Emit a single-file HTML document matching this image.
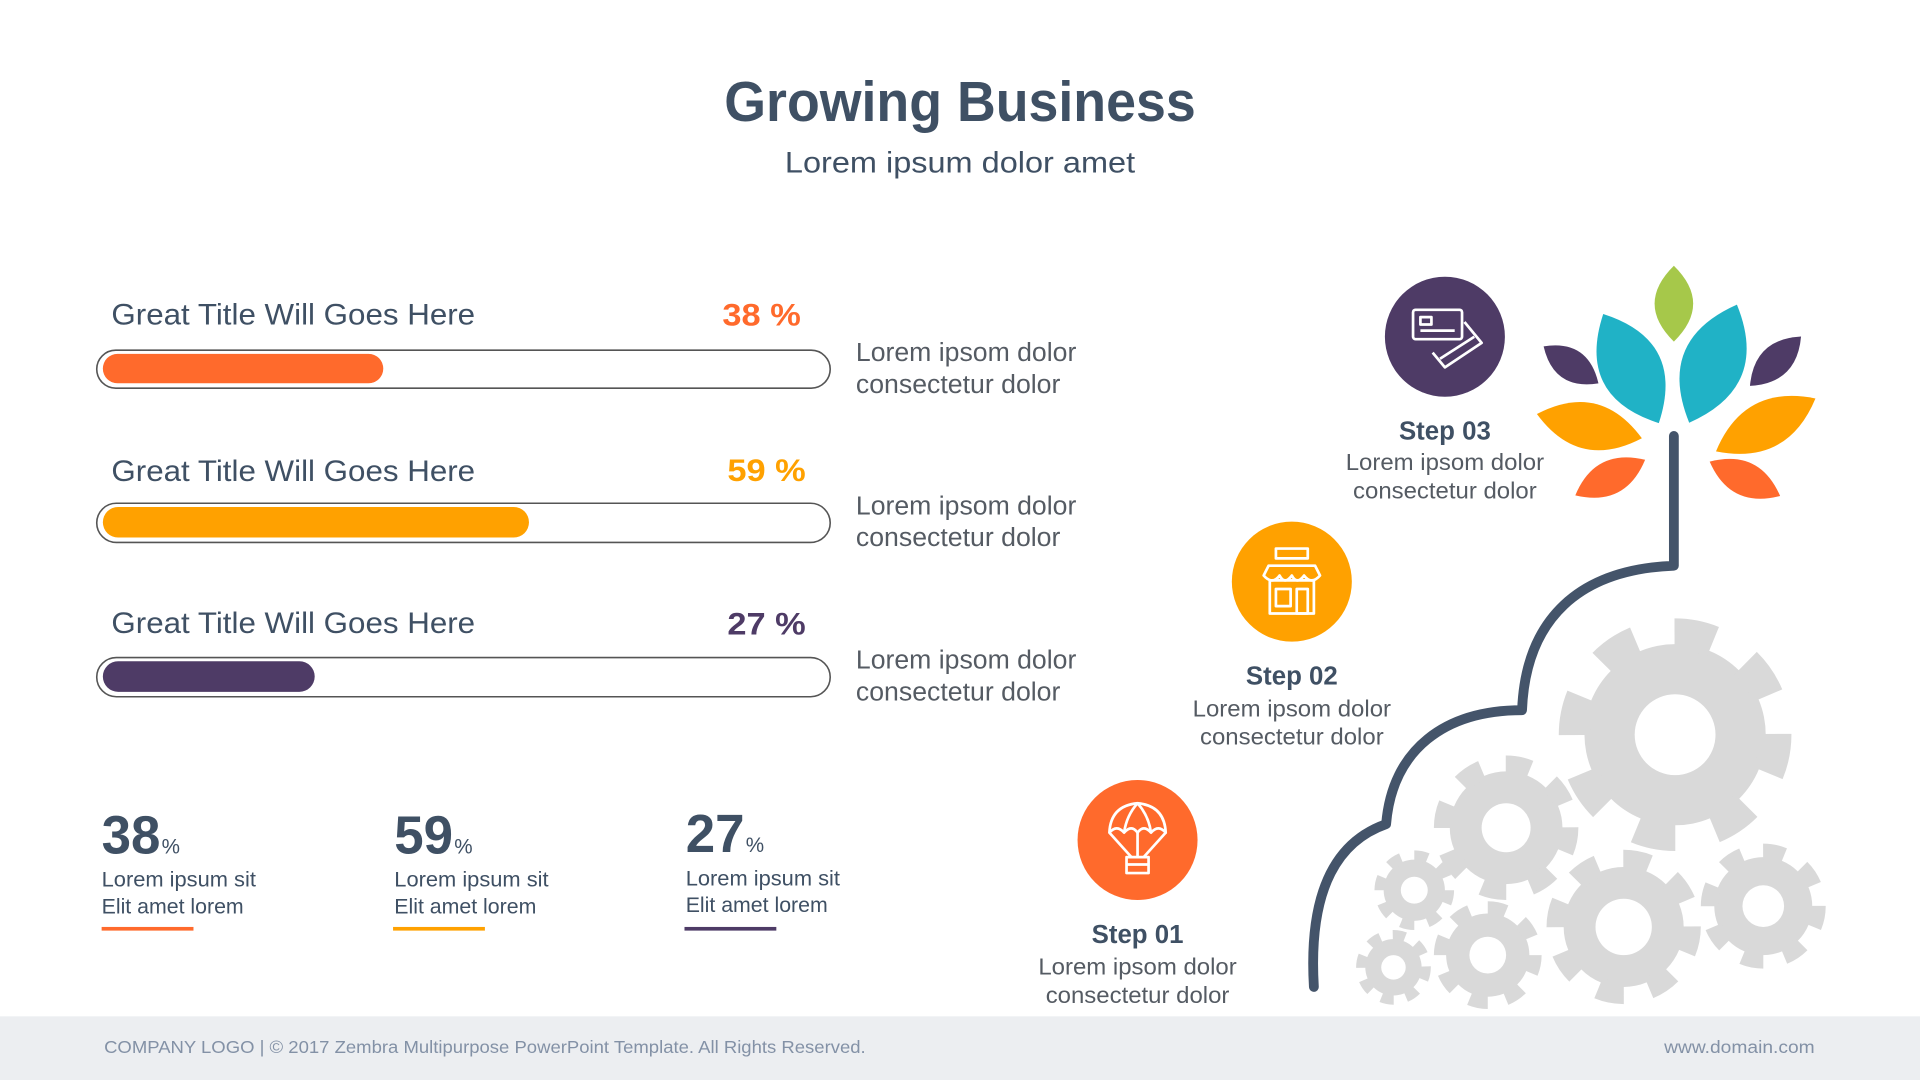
<!DOCTYPE html>
<html><head><meta charset="utf-8"><style>html,body{margin:0;padding:0;background:#fff;}svg{display:block;}text{font-family:"Liberation Sans",sans-serif;}</style></head>
<body>
<svg width="1920" height="1080" viewBox="0 0 1568 882" xmlns="http://www.w3.org/2000/svg">
<defs><path id="leaf" d="M-1,0 Q0,-2.1 1,0 Q0,2.1 -1,0 Z"/></defs>
<rect width="1568" height="882" fill="#fff"/>
<text x="784" y="99" text-anchor="middle" font-size="46" font-weight="bold" fill="#3f5064" textLength="385" lengthAdjust="spacingAndGlyphs">Growing Business</text>
<text x="784" y="141" text-anchor="middle" font-size="24" fill="#3f5064" textLength="286" lengthAdjust="spacingAndGlyphs">Lorem ipsum dolor amet</text>

<g font-size="24" fill="#3f5064">
<text x="91" y="265" textLength="297" lengthAdjust="spacingAndGlyphs">Great Title Will Goes Here</text>
<text x="91" y="393" textLength="297" lengthAdjust="spacingAndGlyphs">Great Title Will Goes Here</text>
<text x="91" y="517" textLength="297" lengthAdjust="spacingAndGlyphs">Great Title Will Goes Here</text>
</g>
<text x="654" y="266" text-anchor="end" font-size="26" font-weight="bold" fill="#ff6a2c" textLength="64" lengthAdjust="spacingAndGlyphs">38 %</text>
<text x="658" y="393" text-anchor="end" font-size="26" font-weight="bold" fill="#ffa100" textLength="64" lengthAdjust="spacingAndGlyphs">59 %</text>
<text x="658" y="518" text-anchor="end" font-size="26" font-weight="bold" fill="#4e3b66" textLength="64" lengthAdjust="spacingAndGlyphs">27 %</text>

<rect x="79" y="286" width="599" height="31" rx="15.5" fill="#fff" stroke="#555" stroke-width="1.3"/>
<rect x="84" y="289" width="229" height="24" rx="12" fill="#ff6a2c"/>
<rect x="79" y="411" width="599" height="32" rx="16" fill="#fff" stroke="#555" stroke-width="1.3"/>
<rect x="84" y="414" width="348" height="25" rx="12.5" fill="#ffa100"/>
<rect x="79" y="537" width="599" height="32" rx="16" fill="#fff" stroke="#555" stroke-width="1.3"/>
<rect x="84" y="540" width="173" height="25" rx="12.5" fill="#4e3b66"/>

<g font-size="21" fill="#555b63">
<text x="699" y="295" textLength="180" lengthAdjust="spacingAndGlyphs">Lorem ipsom dolor</text>
<text x="699" y="321" textLength="167" lengthAdjust="spacingAndGlyphs">consectetur dolor</text>
<text x="699" y="420" textLength="180" lengthAdjust="spacingAndGlyphs">Lorem ipsom dolor</text>
<text x="699" y="446" textLength="167" lengthAdjust="spacingAndGlyphs">consectetur dolor</text>
<text x="699" y="546" textLength="180" lengthAdjust="spacingAndGlyphs">Lorem ipsom dolor</text>
<text x="699" y="572" textLength="167" lengthAdjust="spacingAndGlyphs">consectetur dolor</text>
</g>

<g fill="#3f5064">
<text x="83" y="697" font-size="44" font-weight="bold" textLength="48" lengthAdjust="spacingAndGlyphs">38</text>
<text x="132" y="697" font-size="17" textLength="15" lengthAdjust="spacingAndGlyphs">%</text>
<text x="322" y="697" font-size="44" font-weight="bold" textLength="48" lengthAdjust="spacingAndGlyphs">59</text>
<text x="371" y="697" font-size="17" textLength="15" lengthAdjust="spacingAndGlyphs">%</text>
<text x="560" y="696" font-size="44" font-weight="bold" textLength="48" lengthAdjust="spacingAndGlyphs">27</text>
<text x="609" y="696" font-size="17" textLength="15" lengthAdjust="spacingAndGlyphs">%</text>
<g font-size="17">
<text x="83" y="724" textLength="126" lengthAdjust="spacingAndGlyphs">Lorem ipsum sit</text>
<text x="83" y="746" textLength="116" lengthAdjust="spacingAndGlyphs">Elit amet lorem</text>
<text x="322" y="724" textLength="126" lengthAdjust="spacingAndGlyphs">Lorem ipsum sit</text>
<text x="322" y="746" textLength="116" lengthAdjust="spacingAndGlyphs">Elit amet lorem</text>
<text x="560" y="723" textLength="126" lengthAdjust="spacingAndGlyphs">Lorem ipsum sit</text>
<text x="560" y="745" textLength="116" lengthAdjust="spacingAndGlyphs">Elit amet lorem</text>
</g>
</g>
<rect x="83" y="757" width="75" height="3" fill="#ff6a2c"/>
<rect x="321" y="757" width="75" height="3" fill="#ffa100"/>
<rect x="559" y="757" width="75" height="3" fill="#4e3b66"/>

<rect x="0" y="830" width="1568" height="52" fill="#eceef1"/>
<text x="85" y="860" font-size="14.5" fill="#8391a6" textLength="622" lengthAdjust="spacingAndGlyphs">COMPANY LOGO | © 2017 Zembra Multipurpose PowerPoint Template. All Rights Reserved.</text>
<text x="1482" y="860" text-anchor="end" font-size="14.5" fill="#8391a6" textLength="123" lengthAdjust="spacingAndGlyphs">www.domain.com</text>

<g fill="#d9d9d9" stroke="#d9d9d9">
<g transform="translate(1368,600)"><circle r="74" stroke="none"/><circle r="82" fill="none" stroke-width="26" pathLength="16" stroke-dasharray="1 1"/></g>
<g transform="translate(1230,676)"><circle r="46" stroke="none"/><circle r="51" fill="none" stroke-width="16" pathLength="16" stroke-dasharray="1 1"/></g>
<g transform="translate(1326,757)"><circle r="49" stroke="none"/><circle r="54" fill="none" stroke-width="18" pathLength="16" stroke-dasharray="1 1"/></g>
<g transform="translate(1440,740)"><circle r="40" stroke="none"/><circle r="44" fill="none" stroke-width="14" pathLength="16" stroke-dasharray="1 1"/></g>
<g transform="translate(1155,727)"><circle r="25" stroke="none"/><circle r="28" fill="none" stroke-width="9" pathLength="16" stroke-dasharray="1 1"/></g>
<g transform="translate(1215,780)"><circle r="34" stroke="none"/><circle r="38" fill="none" stroke-width="12" pathLength="16" stroke-dasharray="1 1"/></g>
<g transform="translate(1138,790)"><circle r="23" stroke="none"/><circle r="26" fill="none" stroke-width="9" pathLength="16" stroke-dasharray="1 1"/></g>
</g>
<g fill="#fff">
<circle cx="1368" cy="600" r="33"/><circle cx="1230" cy="676" r="20"/><circle cx="1326" cy="757" r="23"/>
<circle cx="1440" cy="740" r="17"/><circle cx="1155" cy="727" r="11"/><circle cx="1215" cy="780" r="15"/><circle cx="1138" cy="790" r="10"/>
</g>

<path d="M1367,356 L1367,462 C1290,465 1246,505 1243,580 C1180,580 1137,612 1132,673 C1095,686 1068,722 1073,806" fill="none" stroke="#44546a" stroke-width="8" stroke-linecap="round" stroke-linejoin="round"/>

<use href="#leaf" transform="translate(1367,248) rotate(-90) scale(31,15)" fill="#a6c84a"/>
<use href="#leaf" transform="translate(1332,301) rotate(63) scale(50,24)" fill="#20b2c6"/>
<use href="#leaf" transform="translate(1399,297) rotate(-68) scale(52,24)" fill="#20b2c6"/>
<use href="#leaf" transform="translate(1283,298) rotate(34) scale(27,12)" fill="#4e3b66"/>
<use href="#leaf" transform="translate(1450,295) rotate(-44) scale(29,12)" fill="#4e3b66"/>
<use href="#leaf" transform="translate(1298,348) rotate(13) scale(44,18)" fill="#ffa100"/>
<use href="#leaf" transform="translate(1442,347) rotate(-28) scale(46,18)" fill="#ffa100"/>
<use href="#leaf" transform="translate(1315,390) rotate(-27) scale(32,13)" fill="#ff6a2c"/>
<use href="#leaf" transform="translate(1425,391) rotate(26) scale(32,13)" fill="#ff6a2c"/>

<circle cx="1180" cy="275" r="49" fill="#4e3b66"/>
<g fill="none" stroke="#fff" stroke-width="2.2" stroke-linejoin="round">
<rect x="1154" y="253" width="40" height="24" rx="2"/>
<rect x="1160" y="259" width="9" height="6"/><line x1="1160" y1="270" x2="1188" y2="270"/>
<path d="M1196,263 L1210,280 L1180,300 L1170,288"/><line x1="1176" y1="293" x2="1204" y2="275"/>
</g>
<circle cx="1055" cy="475" r="49" fill="#ffa100"/>
<g fill="none" stroke="#fff" stroke-width="2.2" stroke-linejoin="round">
<rect x="1042" y="448" width="26" height="8"/>
<path d="M1036,462 L1074,462 L1078,470 Q1071,478 1065,470 Q1059,478 1055,470 Q1049,478 1045,470 Q1039,478 1032,470 Z"/>
<rect x="1037" y="474" width="36" height="27"/><rect x="1042" y="481" width="12" height="14"/><rect x="1059" y="481" width="9" height="20"/>
</g>
<circle cx="929" cy="686" r="49" fill="#ff6a2c"/>
<g fill="none" stroke="#fff" stroke-width="2.2" stroke-linejoin="round">
<path d="M906,680 Q907,658 929,656 Q951,658 952,680 Q946,673 940,680 Q934,673 929,680 Q924,673 918,680 Q912,673 906,680 Z"/>
<path d="M929,656 Q920,666 918,680 M929,656 Q938,666 940,680"/>
<path d="M906,680 L924,700 M952,680 L934,700 M929,680 L929,700"/>
<rect x="920" y="700" width="18" height="13"/><line x1="920" y1="706" x2="938" y2="706"/>
</g>

<g text-anchor="middle">
<text x="1180" y="359" font-size="21" font-weight="bold" fill="#3f5064" textLength="75" lengthAdjust="spacingAndGlyphs">Step 03</text>
<text x="1180" y="384" font-size="19" fill="#555b63" textLength="162" lengthAdjust="spacingAndGlyphs">Lorem ipsom dolor</text>
<text x="1180" y="407" font-size="19" fill="#555b63" textLength="150" lengthAdjust="spacingAndGlyphs">consectetur dolor</text>
<text x="1055" y="559" font-size="21" font-weight="bold" fill="#3f5064" textLength="75" lengthAdjust="spacingAndGlyphs">Step 02</text>
<text x="1055" y="585" font-size="19" fill="#555b63" textLength="162" lengthAdjust="spacingAndGlyphs">Lorem ipsom dolor</text>
<text x="1055" y="608" font-size="19" fill="#555b63" textLength="150" lengthAdjust="spacingAndGlyphs">consectetur dolor</text>
<text x="929" y="770" font-size="21" font-weight="bold" fill="#3f5064" textLength="75" lengthAdjust="spacingAndGlyphs">Step 01</text>
<text x="929" y="796" font-size="19" fill="#555b63" textLength="162" lengthAdjust="spacingAndGlyphs">Lorem ipsom dolor</text>
<text x="929" y="819" font-size="19" fill="#555b63" textLength="150" lengthAdjust="spacingAndGlyphs">consectetur dolor</text>
</g>
</svg>
</body></html>
